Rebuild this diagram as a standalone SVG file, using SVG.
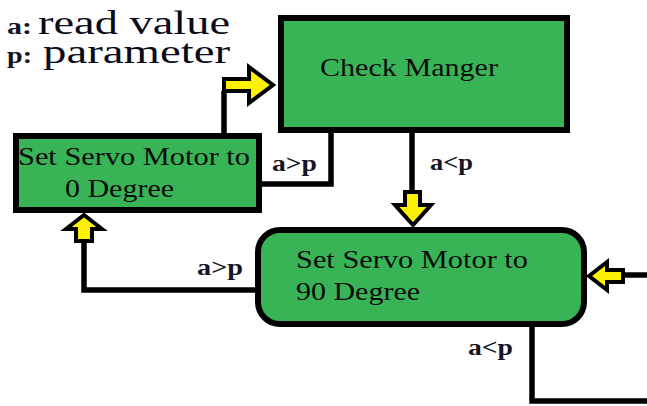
<svg xmlns="http://www.w3.org/2000/svg" width="647" height="406" viewBox="0 0 647 406">
<style>
.box{fill:#38b456;stroke:#000;stroke-width:6}
text{font-family:'Liberation Serif',Tinos,'Times New Roman',Times,serif}
.t{font-size:26px;fill:#0d0d0d}
.lbl{font-size:24px;font-weight:bold;fill:#151525}
.leg{font-size:34px;fill:#0a0a18}
.legk{font-size:24px;font-weight:bold;fill:#151525}
.ln{fill:none;stroke:#000;stroke-width:5.5;stroke-linejoin:miter}
.arr{fill:#fff200;stroke:#000;stroke-width:4;stroke-linejoin:miter}
</style>
<rect width="647" height="406" fill="#fff"/>
<g id="legend">
<text class="legk" x="7" y="34" textLength="25" lengthAdjust="spacingAndGlyphs">a:</text>
<text class="leg" x="38" y="34" textLength="192" lengthAdjust="spacingAndGlyphs">read value</text>
<text class="legk" x="7" y="63" textLength="25" lengthAdjust="spacingAndGlyphs">p:</text>
<text class="leg" x="43" y="63" textLength="187" lengthAdjust="spacingAndGlyphs">parameter</text>
</g>
<g id="connectors">
<polyline class="ln" points="224,133 224,91"/>
<polygon class="arr" points="224,79 249,79 249,67 273,85 249,103 249,91 224,91"/>
<polyline class="ln" points="331,133 331,184 262,184"/>
<text class="lbl" x="272" y="171" textLength="45" lengthAdjust="spacingAndGlyphs">a&gt;p</text>
<polyline class="ln" points="412,133 412,192"/>
<polygon class="arr" points="405,192 420,192 420,205 431,205 413,225 395,205 405,205"/>
<text class="lbl" x="430" y="170" textLength="43" lengthAdjust="spacingAndGlyphs">a&lt;p</text>
<polyline class="ln" points="255,290 84,290 84,241"/>
<polygon class="arr" points="76,241 76,229 66,229 84,215 102,229 92,229 92,241"/>
<text class="lbl" x="197" y="275" textLength="46" lengthAdjust="spacingAndGlyphs">a&gt;p</text>
<polyline class="ln" points="647,275 623,275"/>
<polygon class="arr" points="623,270 607,270 607,262 589,276 607,290 607,282 623,282"/>
<polyline class="ln" points="532,327 532,401 647,401"/>
<text class="lbl" x="468" y="355" textLength="45" lengthAdjust="spacingAndGlyphs">a&lt;p</text>
</g>
<g id="check-manger">
<rect class="box" x="281" y="18" width="286" height="112"/>
<text class="t" x="320" y="76" textLength="178" lengthAdjust="spacingAndGlyphs">Check Manger</text>
</g>
<g id="servo-0">
<rect class="box" x="16" y="136" width="243" height="74"/>
<text class="t" x="18" y="165" textLength="232" lengthAdjust="spacingAndGlyphs">Set Servo Motor to</text>
<text class="t" x="65" y="197" textLength="109" lengthAdjust="spacingAndGlyphs">0 Degree</text>
</g>
<g id="servo-90">
<rect class="box" x="258" y="230" width="326" height="94" rx="22" ry="22"/>
<text class="t" x="296" y="268" textLength="232" lengthAdjust="spacingAndGlyphs">Set Servo Motor to</text>
<text class="t" x="296" y="300" textLength="124" lengthAdjust="spacingAndGlyphs">90 Degree</text>
</g>
</svg>
